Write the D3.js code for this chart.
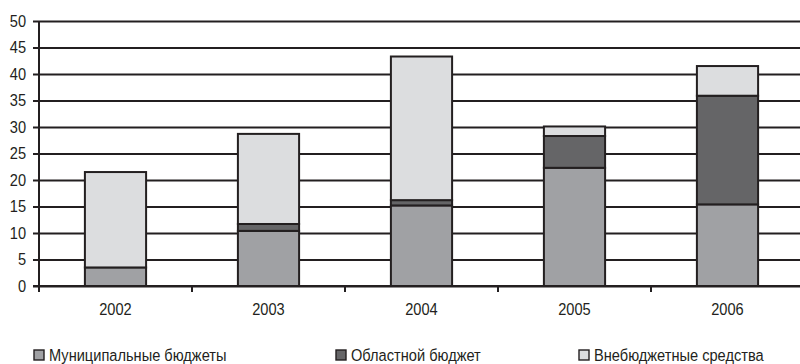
<!DOCTYPE html>
<html>
<head>
<meta charset="utf-8">
<script src="https://cdn.jsdelivr.net/npm/d3@7"></script>
<style>
  html, body { margin: 0; padding: 0; background: #fff; }
  svg { display: block; }
  text { font-family: "Liberation Sans", Arial, sans-serif; fill: #231f20; }
</style>
</head>
<body>
<svg id="chart" width="800" height="364"></svg>
<script>
// Funding sources by year (stacked bars)
const years = ["2002", "2003", "2004", "2005", "2006"];
const seriesNames = ["Муниципальные бюджеты", "Областной бюджет", "Внебюджетные средства"];
const municipal = [3.5, 10.4, 15.2, 22.3, 15.4];
const regional = [0, 1.3, 1.0, 6.0, 20.5];
const offBudget = [18.0, 17.0, 27.1, 1.8, 5.6];
const yTicks = [0, 5, 10, 15, 20, 25, 30, 35, 40, 45, 50];
const colors = ["#a0a1a4", "#656567", "#dcdddf"];

const svg = d3.select("#chart");
const margin = { left: 39, top: 21, bottom: 286, right: 804 };
const ink = "#231f20";
const fontSize = 17;
const narrow = 0.86;   // horizontal squeeze for a condensed look

const x = d3.scaleBand().domain(years).range([margin.left, margin.right]).paddingInner(0.6).paddingOuter(0.3);
const xBand = d3.scaleBand().domain(years).range([margin.left, margin.right]);
const y = d3.scaleLinear().domain([0, 50]).range([margin.bottom, margin.top]);

// Horizontal gridlines with left ticks
const yAxis = d3.axisLeft(y).tickValues(yTicks).tickSize(-(margin.right - margin.left)).tickSizeOuter(0).tickPadding(12);
const gy = svg.append("g").attr("transform", `translate(${margin.left},0)`).call(yAxis);
gy.select(".domain").remove();
gy.attr("font-family", null).attr("font-size", null);
gy.selectAll(".tick line").attr("x1", -6).attr("stroke", ink).attr("stroke-width", 2);
gy.selectAll(".tick text")
  .style("font-size", fontSize + "px").attr("fill", ink)
  .attr("x", -13 / narrow)
  .attr("transform", `scale(${narrow},1)`);

// Vertical axis line
svg.append("line")
  .attr("x1", margin.left).attr("x2", margin.left)
  .attr("y1", y(50)).attr("y2", y(0) + 6)
  .attr("stroke", ink).attr("stroke-width", 2);

// Stacked bars
const rows = years.map((yr, i) => ({ year: yr, s0: municipal[i], s1: regional[i], s2: offBudget[i] }));
const stack = d3.stack().keys(["s0", "s1", "s2"]);
const layers = stack(rows);

svg.append("g").selectAll("g").data(layers).join("g")
  .attr("fill", (d, i) => colors[i])
  .selectAll("rect").data(d => d.filter(p => p[1] - p[0] > 0)).join("rect")
  .attr("x", d => x(d.data.year))
  .attr("width", x.bandwidth())
  .attr("y", d => y(d[1]))
  .attr("height", d => y(d[0]) - y(d[1]))
  .attr("stroke", ink)
  .attr("stroke-width", 2);

// Category labels
const xAxis = d3.axisBottom(xBand).tickSize(0).tickPadding(17);
const gx = svg.append("g").attr("transform", `translate(0,${margin.bottom})`).call(xAxis);
gx.select(".domain").remove();
gx.attr("font-family", null).attr("font-size", null);
gx.selectAll(".tick text")
  .style("font-size", fontSize + "px").attr("fill", ink)
  .attr("transform", `scale(${narrow},1)`);

// Baseline and category tick marks
svg.append("line")
  .attr("x1", margin.left - 6).attr("x2", margin.right)
  .attr("y1", y(0)).attr("y2", y(0))
  .attr("stroke", ink).attr("stroke-width", 2);

svg.append("g").selectAll("line").data(years.slice(1)).join("line")
  .attr("x1", d => xBand(d)).attr("x2", d => xBand(d))
  .attr("y1", y(0)).attr("y2", y(0) + 6)
  .attr("stroke", ink).attr("stroke-width", 2);

// Legend
const legendX = [34, 336, 579];
const lg = svg.append("g").selectAll("g").data(seriesNames).join("g")
  .attr("transform", (d, i) => `translate(${legendX[i]},350)`);
lg.append("rect").attr("width", 10).attr("height", 10)
  .attr("fill", (d, i) => colors[i]).attr("stroke", ink).attr("stroke-width", 1.4);
lg.append("text")
  .attr("transform", `scale(${narrow},1)`)
  .attr("x", 15 / narrow).attr("y", 5).attr("dy", "0.36em")
  .style("font-size", fontSize + "px").text(d => d);
</script>
</body>
</html>
